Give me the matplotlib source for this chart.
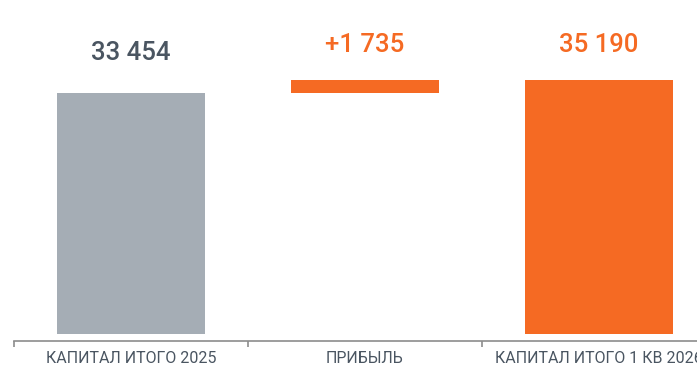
import matplotlib
matplotlib.use("Agg")
import matplotlib.pyplot as plt
from matplotlib.ticker import FixedLocator

# Capital bridge: opening balance, profit, closing balance (RUB mn)
categories = ["КАПИТАЛ ИТОГО 2025", "ПРИБЫЛЬ", "КАПИТАЛ ИТОГО 1 КВ 2026"]
opening = 33454
profit = 1735
closing = 35190
value_labels = ["33 454", "+1 735", "35 190"]

GRAY = "#a5adb5"
ORANGE = "#f56a23"
TEXT_GRAY = "#4a5561"
AXIS_GRAY = "#8c8c8c"

plt.rcParams["font.family"] = ["Roboto", "DejaVu Sans"]

fig = plt.figure(figsize=(6.97, 3.67), dpi=100)
W, H = 697, 367
base_px = 334.3
x_left, x_right = 14, 716
ax = fig.add_axes([x_left / W, (H - base_px) / H, (x_right - x_left) / W, base_px / H])

x = [0, 1, 2]
bottoms = [0, opening, 0]
heights = [opening, profit, closing]
colors = [GRAY, ORANGE, ORANGE]
bars = ax.bar(x, heights, bottom=bottoms, width=0.63, color=colors, zorder=2)

ax.set_xlim(-0.5, 2.5)
ax.set_ylim(0, 46264)

# value labels above each bar (baseline offset in points)
label_colors = [TEXT_GRAY, ORANGE, ORANGE]
label_pad = [23.3, 20.2, 20.5]
for xi, b, h, txt, c, pad in zip(x, bottoms, heights, value_labels, label_colors, label_pad):
    ax.annotate(txt, (xi, b + h), xytext=(0, pad), textcoords="offset points",
                ha="center", va="baseline", fontsize=18.5, fontweight="medium", color=c)

for s in ["top", "right", "left"]:
    ax.spines[s].set_visible(False)
ax.spines["bottom"].set_position(("outward", 5))
ax.spines["bottom"].set_color(AXIS_GRAY)
ax.spines["bottom"].set_linewidth(1.2)

ax.set_yticks([])
ax.set_xticks(x)
ax.set_xticklabels(categories)
ax.tick_params(axis="x", which="major", length=0, pad=7, labelsize=11.5, labelcolor=TEXT_GRAY)
ax.xaxis.set_minor_locator(FixedLocator([-0.5, 0.5, 1.5, 2.5]))
ax.tick_params(axis="x", which="minor", length=4, width=1.2, color=AXIS_GRAY)

fig.savefig("out.png", dpi=100)
